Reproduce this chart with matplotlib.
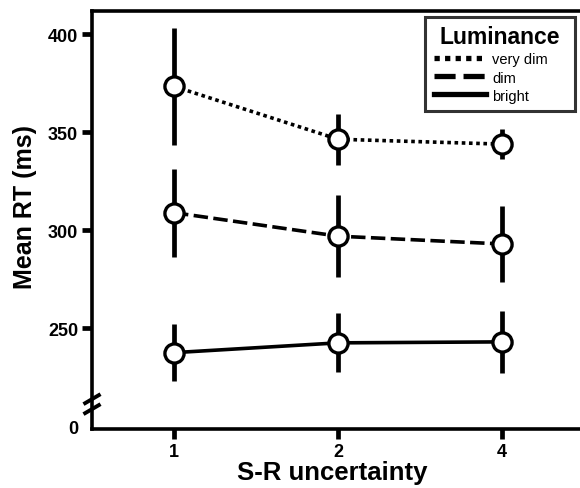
import matplotlib
matplotlib.use("Agg")
import matplotlib.pyplot as plt
from matplotlib.lines import Line2D

plt.rcParams['font.family'] = ['Liberation Sans', 'DejaVu Sans']

categories = ['1', '2', '4']
series_names = ['very dim', 'dim', 'bright']
very_dim = [373.5, 346.5, 344]
very_dim_err = [30, 13, 7.5]
dim = [309, 297, 293]
dim_err = [22.5, 21, 19.5]
bright = [237.5, 242.5, 243]
bright_err = [14.5, 15, 16]
ytick_values = [200, 250, 300, 350, 400]
ytick_labels = ['0', '250', '300', '350', '400']

styles = {'very dim': (0, (1, 1)), 'dim': (0, (4, 1.5)), 'bright': '-'}
data = [(very_dim, very_dim_err), (dim, dim_err), (bright, bright_err)]

fig = plt.figure(figsize=(5.8, 4.89), dpi=100)
ax = fig.add_axes([92/580, 1-430/489, 492/580, 418/489])
x = list(range(len(categories)))

for name, (vals, errs) in zip(series_names, data):
    ax.errorbar(x, vals, yerr=errs, fmt='none', ecolor='black', elinewidth=3.4, capsize=0, zorder=2)
    ax.plot(x, vals, color='black', lw=2.6, linestyle=styles[name], zorder=3,
            dash_capstyle='butt')
    ax.plot(x, vals, linestyle='none', marker='o', markersize=13.8,
            markerfacecolor='white', markeredgecolor='black', markeredgewidth=2.4, zorder=4)

ax.set_xlim(-0.5, 2.5)
ax.set_ylim(198.5, 412)
ax.set_xticks(x)
ax.set_xticklabels(categories)
ax.set_yticks(ytick_values)
ax.set_yticklabels(ytick_labels)
ax.yaxis.get_major_ticks()[0].tick1line.set_visible(False)
ax.tick_params(axis='both', direction='out', length=7, width=3.4, labelsize=13, pad=3)
for lab in ax.get_xticklabels() + ax.get_yticklabels():
    lab.set_fontweight('bold')
for s in ['left', 'bottom', 'top']:
    ax.spines[s].set_linewidth(2.6)
ax.spines['right'].set_visible(False)

ax.set_xlabel('S-R uncertainty', fontsize=18.5, fontweight='bold')
ax.xaxis.set_label_coords(0.488, -0.075)
ax.set_ylabel('Mean RT (ms)', fontsize=18, fontweight='bold')
ax.yaxis.set_label_coords(-0.136, 0.533)
ax.yaxis.label.set_verticalalignment('center')

# axis break marks
for lo in (206.1, 211.2):
    ax.plot([-0.5 - 0.052, -0.5 + 0.052], [lo, lo + 5.1], color='black', lw=2.8,
            clip_on=False, zorder=5, solid_capstyle='butt')

handles = [Line2D([0], [0], color='black', lw=3.8, linestyle=styles[n], dash_capstyle='butt')
           for n in series_names]
leg = ax.legend(handles, series_names, title='Luminance', loc='upper left',
                bbox_to_anchor=(425/580, 1-18/489, 150/580, 0.001), bbox_transform=fig.transFigure,
                mode='expand',
                fontsize=10.5, handlelength=3.6,
                handletextpad=0.4, labelspacing=0.28, fancybox=False, frameon=True,
                borderpad=0.6, borderaxespad=0)
leg.get_title().set_fontsize(16.5)
leg.get_title().set_fontweight('bold')
leg.get_frame().set_edgecolor('black')
leg.get_frame().set_linewidth(2.2)
leg._legend_box.align = 'center'
leg._legend_box.sep = 3

fig.savefig('out.png', dpi=100)
